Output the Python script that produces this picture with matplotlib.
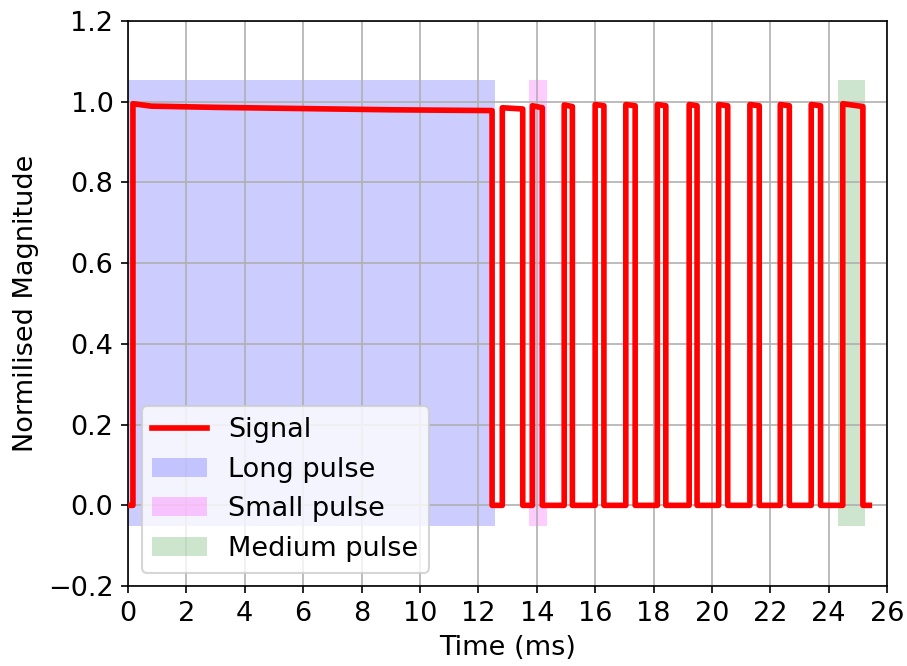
import numpy as np
import matplotlib.pyplot as plt

plt.rcParams['font.size'] = 13

# Long pulse plateau (ms, level) - droops slowly while on
long_t = [0.17, 0.8, 3.0, 6.0, 9.0, 12.47]
long_v = [0.995, 0.989, 0.986, 0.983, 0.980, 0.978]

# Short pulse edges (ms) and high levels
rise = [12.82, 13.85, 14.94, 16.00, 17.05, 18.13, 19.22, 20.23, 21.30, 22.34, 23.40, 24.48]
fall = [13.52, 14.19, 15.22, 16.30, 17.37, 18.42, 19.49, 20.54, 21.62, 22.65, 23.72, 25.17]
level_start = [0.985, 0.990, 0.992, 0.993, 0.993, 0.993, 0.993, 0.993, 0.993, 0.993, 0.993, 0.995]
level_end = [0.982, 0.985, 0.988, 0.990, 0.990, 0.990, 0.990, 0.990, 0.990, 0.990, 0.990, 0.988]
t_start = 0.0
t_end = 25.39

# Highlighted regions (ms)
long_span = [0.0, 12.56]
small_span = [13.72, 14.34]
medium_span = [24.32, 25.25]
span_low, span_high = -0.05, 1.055

# Build the square wave from the edges
t = [t_start, long_t[0]] + long_t + [long_t[-1]]
y = [0.0, 0.0] + long_v + [0.0]
for r, f, a, b in zip(rise, fall, level_start, level_end):
    t += [r, r, f, f]
    y += [0.0, a, b, 0.0]
t.append(t_end)
y.append(0.0)

fig = plt.figure(figsize=(907 / 150, 666 / 150), dpi=150)
ax = fig.add_axes([0.1411, 0.12, 0.837, 0.8485])

ax.plot(t, y, color='red', lw=2.7, label='Signal', zorder=3)
ax.fill_between(long_span, span_low, span_high, color='blue', alpha=0.2, lw=0, label='Long pulse')
ax.fill_between(small_span, span_low, span_high, color='magenta', alpha=0.2, lw=0, label='Small pulse')
ax.fill_between(medium_span, span_low, span_high, color='green', alpha=0.2, lw=0, label='Medium pulse')

ax.set_xlim(0, 26)
ax.set_ylim(-0.2, 1.2)
ax.set_xticks(np.arange(0, 27, 2))
ax.set_yticks(np.arange(-0.2, 1.21, 0.2))
ax.grid(True)
ax.set_xlabel('Time (ms)')
ax.set_ylabel('Normilised Magnitude')
ax.legend(loc='lower left')

fig.savefig('out.png', dpi=150)
